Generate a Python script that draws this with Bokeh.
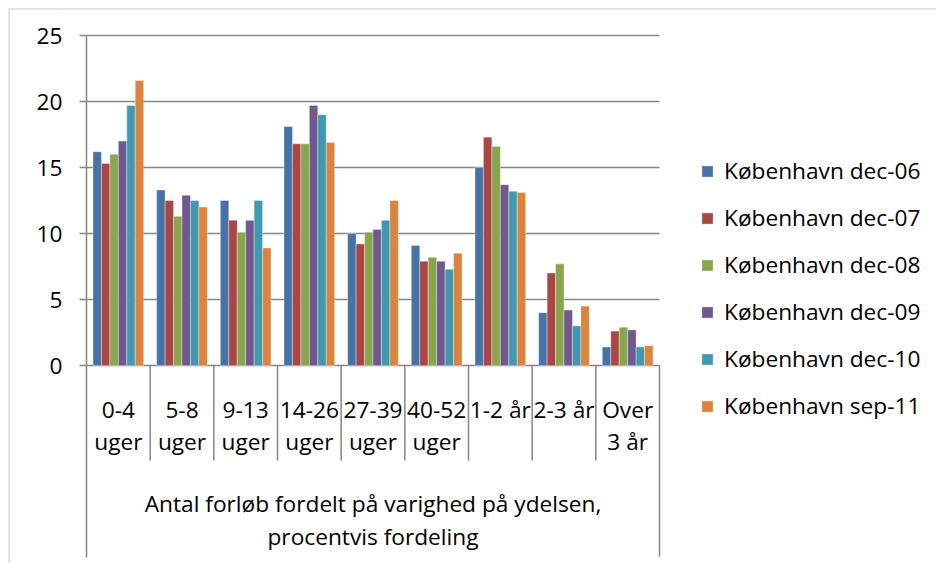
from bokeh.plotting import figure
from bokeh.models import Range1d, FixedTicker, Legend, LegendItem, BoxAnnotation
from bokeh.core.properties import value
from bokeh.embed import file_html
from bokeh.resources import INLINE

# ---- data ----
categories = ["0-4 uger", "5-8 uger", "9-13 uger", "14-26 uger", "27-39 uger",
              "40-52 uger", "1-2 år", "2-3 år", "Over 3 år"]
cat_labels = ["0-4\nuger", "5-8\nuger", "9-13\nuger", "14-26\nuger", "27-39\nuger",
              "40-52\nuger", "1-2 år", "2-3 år", "Over\n3 år"]
series_names = ["København dec-06", "København dec-07", "København dec-08",
                "København dec-09", "København dec-10", "København sep-11"]
dec06 = [16.2, 13.3, 12.5, 18.1, 10.0, 9.1, 15.0, 4.0, 1.4]
dec07 = [15.3, 12.5, 11.0, 16.8, 9.2, 7.9, 17.3, 7.0, 2.6]
dec08 = [16.0, 11.3, 10.1, 16.8, 10.1, 8.2, 16.6, 7.7, 2.9]
dec09 = [17.0, 12.9, 11.0, 19.7, 10.3, 7.9, 13.7, 4.2, 2.7]
dec10 = [19.7, 12.5, 12.5, 19.0, 11.0, 7.3, 13.2, 3.0, 1.4]
sep11 = [21.6, 12.0, 8.9, 16.9, 12.5, 8.5, 13.1, 4.5, 1.5]
y_ticks = [0, 5, 10, 15, 20, 25]
axis_title = ["Antal forløb fordelt på varighed på ydelsen,", "procentvis fordeling"]

series = [dec06, dec07, dec08, dec09, dec10, sep11]
colors = ["#4572A7", "#AA4643", "#89A54E", "#71588F", "#4198AF", "#DB843D"]

FONT = "Open Sans"
FS = "22.7px"
GRID = "#868686"

n = len(categories)

# pixel geometry of the plot area (canvas pixels)
W, H = 936, 563
X0_PX, X1_PX = 86, 659          # category axis extent
Y0_PX, Y25_PX = 365, 35         # value 0 and value 25
ppx = (X1_PX - X0_PX) / n
ppy = (Y0_PX - Y25_PX) / 25.0

def ydat(py):
    return (Y0_PX - py) / ppy

p = figure(width=W, height=H,
           x_range=Range1d(-X0_PX / ppx, (W - X0_PX) / ppx),
           y_range=Range1d(ydat(H), ydat(0)),
           output_backend="svg", toolbar_location=None, x_axis_location=None,
           min_border=0, min_border_left=0, min_border_right=0,
           min_border_top=0, min_border_bottom=0)
p.outline_line_color = None
p.background_fill_color = "white"
p.border_fill_color = "white"
p.xgrid.visible = False
p.ygrid.visible = False

# horizontal gridlines at the value ticks, across the category area only
p.segment(x0=[0] * len(y_ticks), y0=y_ticks, x1=[n] * len(y_ticks), y1=y_ticks,
          line_color=GRID, line_width=1.5)

# y axis (drawn at x = 0 inside the canvas)
p.yaxis.fixed_location = 0
p.yaxis.bounds = (ydat(557), 25)
p.yaxis.ticker = FixedTicker(ticks=y_ticks)
p.yaxis.axis_line_color = GRID
p.yaxis.axis_line_width = 1.5
p.yaxis.major_tick_line_color = GRID
p.yaxis.major_tick_line_width = 1.5
p.yaxis.major_tick_out = 7
p.yaxis.major_tick_in = 0
p.yaxis.minor_tick_line_color = None
p.yaxis.major_label_standoff = 17
p.yaxis.major_label_text_font = FONT
p.yaxis.major_label_text_font_size = FS
p.yaxis.major_label_text_color = "black"

# bars
w = 0.1327
renderers = []
for k, (vals, col) in enumerate(zip(series, colors)):
    xs = [i + 0.5 + (k - 2.5) * w for i in range(n)]
    r = p.vbar(x=xs, width=w, top=vals, bottom=0, fill_color=col,
               line_color="white", line_alpha=0.45, line_width=0.8)
    renderers.append(r)

# category separators (multi-level axis)
inner = list(range(1, n))
p.segment(x0=inner, y0=[0] * len(inner), x1=inner, y1=[ydat(460)] * len(inner),
          line_color=GRID, line_width=1.5)
p.segment(x0=[n], y0=[0], x1=[n], y1=[ydat(556)],
          line_color=GRID, line_width=1.5)

# category labels
first = [c.split("\n")[0] for c in cat_labels]
second = [c.split("\n")[1] if "\n" in c else "" for c in cat_labels]
cx = [i + 0.5 for i in range(n)]
p.text(x=cx, y=[ydat(409)] * n, text=first, text_align="center", text_baseline="middle",
       text_font=value(FONT), text_font_size=FS, text_color="black")
p.text(x=cx, y=[ydat(441)] * n, text=second, text_align="center", text_baseline="middle",
       text_font=value(FONT), text_font_size=FS, text_color="black")
p.text(x=[n / 2, n / 2], y=[ydat(503), ydat(536)], text=axis_title, text_align="center",
       text_baseline="middle", text_font=value(FONT), text_font_size=FS, text_color="black")

# legend
items = [LegendItem(label=name, renderers=[r]) for name, r in zip(series_names, renderers)]
legend = Legend(items=items, location=(700, 142), glyph_width=14, glyph_height=14,
                label_standoff=10, spacing=16, padding=0, margin=0,
                border_line_color=None, background_fill_alpha=0,
                label_text_font=FONT, label_text_font_size=FS, label_text_color="black")
p.add_layout(legend)

# outer chart border (chart area continues past the window)
p.add_layout(BoxAnnotation(left=8.5, right=5000, top=8.5, bottom=5000,
                           left_units="canvas", right_units="canvas",
                           top_units="canvas", bottom_units="canvas",
                           fill_alpha=0, line_color=GRID, line_width=1.5))

open("out.html", "w").write(file_html(p, INLINE))
